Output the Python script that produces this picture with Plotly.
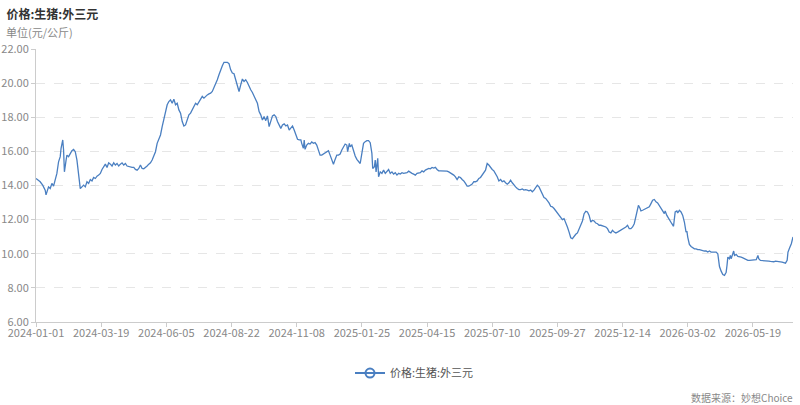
import plotly.graph_objects as go

# trading-day index of each reading (0 = 2024-01-01) and price (yuan/kg)
obs = [
    0, 5, 8, 11, 12, 15, 17, 19, 21, 23, 25, 27, 29, 30, 32, 33, 34, 36, 37, 39,
    41, 43, 45, 47, 49, 51, 53, 55, 57, 59, 61, 63, 65, 67, 69, 71, 73, 75, 77, 79,
    81, 83, 85, 87, 89, 91, 93, 95, 97, 99, 101, 103, 105, 107, 109, 111, 113, 115, 117, 119,
    121, 123, 125, 127, 129, 131, 133, 135, 137, 139, 141, 143, 145, 147, 149, 151, 153, 155, 157, 159,
    161,
    163, 165, 167, 169, 171, 173, 175, 177, 179, 181, 183, 185, 187, 189, 191, 193, 195, 197, 199, 201,
    203, 205, 207, 209, 211, 213, 215, 217, 219, 221, 223, 225, 227, 229, 231, 233, 235, 237, 239, 241,
    243, 245, 247, 249, 251, 253, 255, 257, 259, 261, 263, 265, 267, 269, 271, 273, 275, 277, 279, 281,
    283, 285, 287, 289, 291, 293, 295, 297, 299, 301, 303, 305, 307, 309, 311, 313, 315, 317,
    318, 320, 321, 322, 324, 326, 328, 330, 332, 334, 336, 338, 340, 342, 344, 346, 348, 350, 352, 354,
    356, 358, 360, 362, 364, 366, 368, 370, 372, 373, 375, 376, 378, 380, 382, 384, 386, 388, 390, 392,
    394, 396, 398, 400, 402, 403, 405, 406, 407, 409, 410, 412, 414, 416, 418, 420, 422, 424, 426, 428,
    430, 432, 434, 436, 438, 440, 442, 444, 446, 448, 450, 452, 454, 456, 458, 460, 462, 464, 466, 468,
    470, 472,
    474, 476, 478, 480, 482, 484, 486, 488, 490, 492, 494, 496, 498, 500, 502, 504, 506, 508, 510, 512,
    514, 516, 518, 520, 522, 524, 526, 528, 530, 532, 534, 536, 538, 539, 540, 542, 544, 546, 548, 550,
    552, 554, 556, 558, 560, 562, 564, 566, 568, 570, 572, 574, 576, 578, 580, 582, 584, 586, 588, 590,
    592, 594, 596, 598, 600, 602, 604, 606, 608, 610, 612, 614, 616, 618, 620, 622, 624, 626, 628, 630,
    632, 634,
    636, 638, 640, 642, 644, 646, 648, 650, 652, 654, 656, 658, 660, 662, 664, 666, 668, 670, 672, 674,
    676, 678, 680, 682, 684, 686, 688, 690, 692, 694, 696, 698, 700, 702, 704, 706, 708, 710, 712, 714,
    716, 718, 720, 721, 723, 724, 726, 728, 730, 732, 734, 736, 738, 740, 742, 744, 746, 748, 750, 752,
    753, 755, 757, 759, 761, 763, 764, 765, 767, 768, 770, 772,
    774, 776, 778, 779, 780, 782, 784, 786, 788, 790, 792, 794, 796, 798, 800, 802, 804, 806, 808, 810,
    812, 814, 816, 817, 818, 820, 822, 824, 826, 827, 828, 830, 831, 832, 834, 835, 836, 838, 840, 842,
    844, 846, 848, 850, 852, 854, 856, 858, 860, 862, 864, 865, 867, 869, 871, 873, 875, 877, 879, 881,
    883, 885, 887, 889, 891, 893, 895, 897, 899, 900, 902, 904, 906,
]
price = [
    14.41, 14.22, 14.02, 13.73, 13.45, 13.92, 13.82, 14.12, 13.96, 14.31, 14.71, 15.39, 15.69, 16.18, 16.67, 16.08, 14.80, 15.49, 15.78, 15.69,
    15.92, 16.04, 16.12, 15.98, 15.49, 14.71, 13.82, 13.92, 14.02, 13.92, 14.22, 14.12, 14.35, 14.27, 14.47, 14.41, 14.55, 14.61, 14.71, 14.94,
    15.10, 15.25, 15.06, 15.33, 15.25, 15.14, 15.33, 15.20, 15.29, 15.14, 15.25, 15.33, 15.20, 15.29, 15.14, 15.10, 15.10, 15.06, 15.06, 14.94,
    14.90, 15.00, 15.20, 15.00, 14.98, 15.04, 15.14, 15.25, 15.33, 15.49, 15.69, 15.98, 16.47, 16.76, 16.96, 17.45, 17.84, 18.24, 18.73, 18.92,
    19.02,
    18.82, 19.06, 18.73, 18.82, 18.43, 18.24, 17.75, 17.49, 17.55, 17.84, 18.14, 18.24, 18.43, 18.59, 18.82, 18.73, 18.92, 19.02, 19.22, 19.12,
    19.25, 19.31, 19.37, 19.41, 19.51, 19.71, 19.96, 20.20, 20.49, 20.78, 21.02, 21.22, 21.24, 21.22, 21.14, 20.78, 20.59, 20.55, 20.20, 19.90,
    19.51, 19.90, 20.24, 20.10, 20.20, 20.04, 19.80, 19.61, 19.45, 19.22, 19.02, 18.82, 18.33, 18.14, 17.84, 18.04, 17.80, 18.08, 17.45, 17.84,
    18.08, 18.14, 18.04, 17.75, 17.55, 17.35, 17.55, 17.61, 17.49, 17.55, 17.25, 17.35, 17.49, 17.25, 16.96, 16.71, 16.67, 16.67,
    16.47, 16.18, 16.67, 16.12, 16.37, 16.47, 16.43, 16.55, 16.47, 16.51, 16.37, 16.08, 15.78, 15.78, 15.84, 15.88, 15.98, 16.04, 15.78, 15.49,
    15.25, 15.53, 15.78, 15.78, 15.84, 16.08, 16.31, 16.43, 16.37, 15.98, 16.47, 16.27, 16.37, 15.98, 15.73, 15.53, 15.39, 15.29, 15.88, 16.47,
    16.57, 16.63, 16.63, 16.51, 15.88, 15.00, 15.10, 15.49, 14.80, 15.59, 14.51, 14.80, 14.71, 14.90, 14.71, 14.80, 14.94, 14.71, 14.80, 14.67,
    14.75, 14.61, 14.71, 14.67, 14.75, 14.71, 14.75, 14.75, 14.84, 14.75, 14.71, 14.67, 14.61, 14.71, 14.75, 14.75, 14.86, 14.80, 14.90, 14.94,
    15.00, 14.98,
    15.06, 15.02, 15.06, 14.94, 14.86, 14.86, 14.86, 14.84, 14.84, 14.84, 14.80, 14.75, 14.67, 14.61, 14.51, 14.35, 14.51, 14.47, 14.35, 14.27,
    14.12, 13.96, 13.96, 14.02, 14.08, 14.22, 14.22, 14.27, 14.41, 14.47, 14.61, 14.75, 14.90, 15.10, 15.29, 15.20, 15.06, 14.94, 14.86, 14.71,
    14.51, 14.27, 14.35, 14.22, 14.27, 14.16, 14.08, 14.16, 14.31, 14.16, 14.02, 13.92, 13.82, 13.76, 13.76, 13.80, 13.73, 13.76, 13.73, 13.69,
    13.73, 13.63, 13.73, 13.92, 14.02, 13.92, 13.73, 13.49, 13.29, 13.24, 13.14, 12.98, 12.78, 12.75, 12.65, 12.51, 12.39, 12.25, 12.16, 12.00,
    12.06, 11.86,
    11.57, 11.27, 10.94, 10.88, 11.02, 11.14, 11.22, 11.47, 11.76, 11.92, 12.35, 12.49, 12.45, 12.25, 11.86, 11.96, 11.92, 11.80, 11.76, 11.67,
    11.67, 11.65, 11.61, 11.57, 11.47, 11.27, 11.22, 11.37, 11.27, 11.22, 11.27, 11.33, 11.37, 11.47, 11.53, 11.57, 11.67, 11.47, 11.47, 11.57,
    11.76, 12.25, 12.55, 12.84, 12.65, 12.51, 12.55, 12.59, 12.65, 12.71, 12.75, 12.94, 13.14, 13.18, 13.04, 12.98, 12.84, 12.71, 12.51, 12.35,
    12.51, 12.25, 12.06, 11.92, 11.76, 11.61, 11.96, 12.45, 12.51, 12.39, 12.55, 12.45,
    12.25, 11.86, 11.27, 11.33, 10.98, 10.55, 10.43, 10.35, 10.29, 10.29, 10.24, 10.24, 10.20, 10.20, 10.16, 10.16, 10.10, 10.16, 10.10, 10.10,
    10.08, 10.10, 10.00, 9.51, 9.25, 8.98, 8.78, 8.73, 8.92, 9.31, 9.80, 9.71, 9.90, 9.71, 10.04, 10.16, 9.90, 9.96, 9.84, 9.84,
    9.80, 9.76, 9.71, 9.65, 9.61, 9.61, 9.61, 9.61, 9.61, 9.65, 9.90, 9.71, 9.61, 9.61, 9.57, 9.61, 9.57, 9.57, 9.55, 9.53,
    9.53, 9.57, 9.57, 9.57, 9.53, 9.51, 9.49, 9.45, 9.61, 10.10, 10.35, 10.59, 10.98,
]

# x-axis labels every 78 trading days
tick_pos = [0, 78, 156, 234, 312, 390, 468, 546, 624, 702, 780, 858]
tick_labels = ['2024-01-01', '2024-03-19', '2024-06-05', '2024-08-22', '2024-11-08', '2025-01-25',
               '2025-04-15', '2025-07-10', '2025-09-27', '2025-12-14', '2026-03-02', '2026-05-19']
y_ticks = [6, 8, 10, 12, 14, 16, 18, 20, 22]

series_name = '价格:生猪:外三元'
line_color = '#4a7fc1'
font_family = 'Noto Sans CJK SC'

fig = go.Figure()
fig.add_trace(go.Scatter(x=obs, y=price, mode='lines', name=series_name, showlegend=False,
                         line=dict(color=line_color, width=1.3)))
# legend entry only: line with hollow circle like the original chart
fig.add_trace(go.Scatter(x=[None], y=[None], mode='lines+markers', name=series_name,
                         line=dict(color=line_color, width=2),
                         marker=dict(symbol='circle-open', size=9, color=line_color,
                                     line=dict(width=2))))

fig.update_layout(
    width=800, height=405,
    margin=dict(l=36, r=7, t=49, b=83),
    paper_bgcolor='white', plot_bgcolor='white',
    font=dict(family=font_family, size=11, color='#888888'),
    title=dict(text='<b>' + series_name + '</b>', x=0.008, xanchor='left', y=0.963, yanchor='middle',
               font=dict(family=font_family, size=12, color='#333333')),
    legend=dict(orientation='h', x=0.5, xanchor='center', y=-0.187, yanchor='middle',
                font=dict(size=11, color='#555555')),
    annotations=[
        dict(text='单位(元/公斤)', xref='paper', yref='paper', x=-0.042, y=1.064,
             xanchor='left', yanchor='middle', showarrow=False,
             font=dict(size=11, color='#888888')),
        dict(text='数据来源：妙想Choice', xref='paper', yref='paper', x=1.003, y=-0.275,
             xanchor='right', yanchor='middle', showarrow=False,
             font=dict(size=10, color='#888888')),
    ],
)
fig.update_xaxes(range=[0, 906], tickvals=tick_pos, ticktext=tick_labels, showgrid=False,
                 showline=True, linecolor='#cccccc', linewidth=1, ticks='outside', ticklen=4,
                 tickcolor='#cccccc', zeroline=False, automargin=False, ticklabelstandoff=-3,
                 tickfont=dict(size=11, color='#888888'))
fig.update_yaxes(range=[6, 22], tickvals=y_ticks, tickformat='.2f', showgrid=True,
                 gridcolor='#e6e6e6', griddash='dash', showline=True, linecolor='#cccccc',
                 ticks='outside', ticklen=4, tickcolor='#cccccc', zeroline=False, automargin=False,
                 tickfont=dict(size=11, color='#888888'))

# drop the browser's default page margin so the 800x405 figure fills the window
fig.write_html("out.html", config={'displayModeBar': False},
               post_script="document.body.style.margin = '0';")
